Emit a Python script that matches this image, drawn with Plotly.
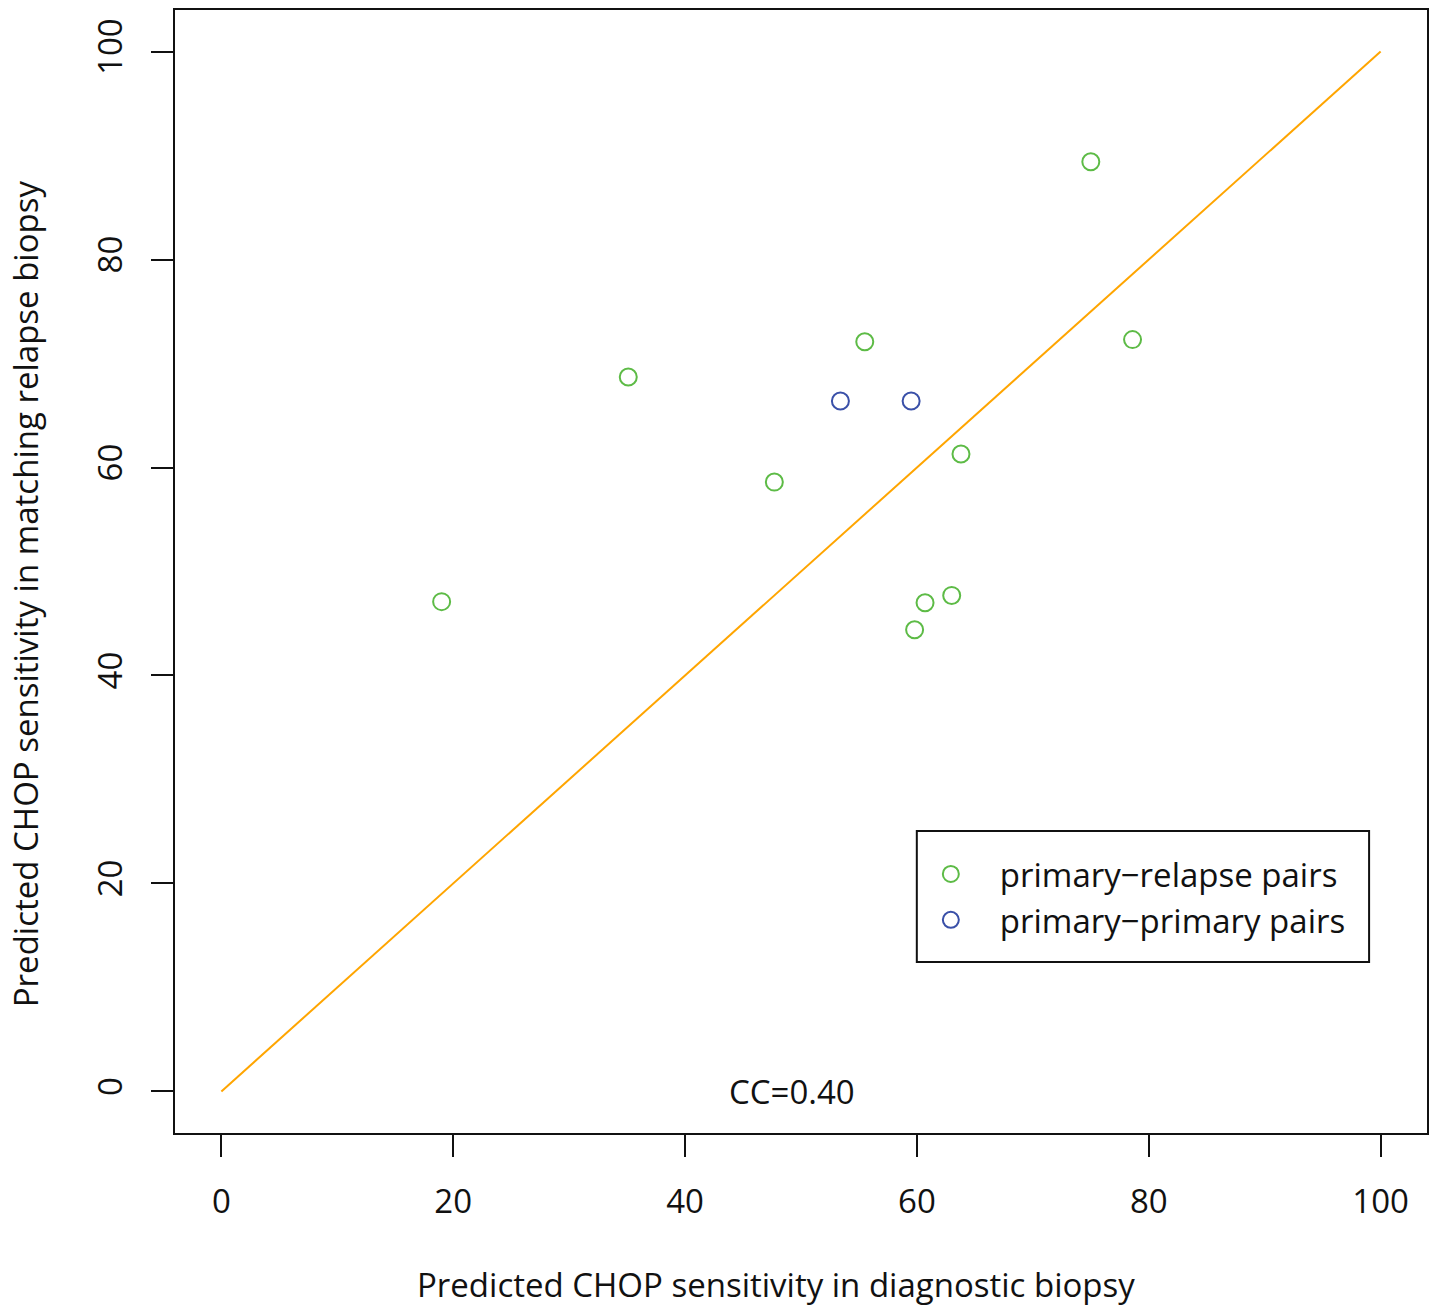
import plotly.graph_objects as go

# Data
relapse_x = [19.0, 35.1, 47.7, 55.5, 63.8, 60.7, 63.0, 59.8, 75.0, 78.6]
relapse_y = [47.1, 68.7, 58.6, 72.1, 61.3, 47.0, 47.7, 44.4, 89.4, 72.3]
primary_x = [53.4, 59.5]
primary_y = [66.4, 66.4]
diag_line = [0, 100]
tick_vals = [0, 20, 40, 60, 80, 100]
cc_label = "CC=0.40"
x_title = "Predicted CHOP sensitivity in diagnostic biopsy"
y_title = "Predicted CHOP sensitivity in matching relapse biopsy"

FONT = "Open Sans"
FS = 33
BLACK = "#111111"

fig = go.Figure()
fig.add_trace(go.Scatter(x=diag_line, y=diag_line, mode="lines",
                         line=dict(color="#FFA500", width=2), showlegend=False,
                         hoverinfo="skip"))
fig.add_trace(go.Scatter(x=relapse_x, y=relapse_y, mode="markers",
                         name="primary\u2212relapse pairs",
                         marker=dict(symbol="circle-open", size=17, color="#5DBB46",
                                     line=dict(width=2, color="#5DBB46"))))
fig.add_trace(go.Scatter(x=primary_x, y=primary_y, mode="markers",
                         name="primary\u2212primary pairs",
                         marker=dict(symbol="circle-open", size=17, color="#3A50A8",
                                     line=dict(width=2, color="#3A50A8"))))

axis_common = dict(range=[-4, 104], tickvals=tick_vals, ticks="outside", ticklen=22,
                   tickwidth=2, tickcolor=BLACK, showline=True, linecolor=BLACK,
                   linewidth=2, mirror=True, showgrid=False, zeroline=False,
                   tickfont=dict(family=FONT, size=FS, color=BLACK))
fig.update_xaxes(**axis_common, ticklabelstandoff=16)
fig.update_yaxes(**axis_common, tickangle=-90, ticklabelstandoff=16)

W, H = 1437, 1307
L, R, T, B = 175, 1437 - 1429, 10, 1307 - 1133
pw, ph = W - L - R, H - T - B

def px(xp):
    return (xp - L) / pw

def py(yp):
    return (H - B - yp) / ph

fig.add_annotation(x=px(777), y=py(1284), xref="paper", yref="paper", text=x_title,
                   showarrow=False, xanchor="center", yanchor="middle",
                   font=dict(family=FONT, size=FS, color=BLACK))
fig.add_annotation(x=px(25), y=py(594), xref="paper", yref="paper", text=y_title,
                   textangle=-90, showarrow=False, xanchor="center", yanchor="middle",
                   font=dict(family=FONT, size=FS, color=BLACK))
fig.add_annotation(x=49.2, y=0, xref="x", yref="y", text=cc_label, showarrow=False,
                   xanchor="center", yanchor="middle",
                   font=dict(family=FONT, size=FS, color=BLACK))

# legend frame
fig.add_shape(type="rect", xref="paper", yref="paper",
              x0=px(918), x1=px(1371), y0=py(962), y1=py(831),
              line=dict(color=BLACK, width=2), fillcolor="rgba(0,0,0,0)", layer="above")

fig.update_layout(
    width=W, height=H,
    margin=dict(l=L, r=R, t=T, b=B),
    paper_bgcolor="white", plot_bgcolor="white",
    font=dict(family=FONT, size=FS, color=BLACK),
    legend=dict(x=px(903), y=py(846), xanchor="left", yanchor="top",
                borderwidth=0, bgcolor="rgba(0,0,0,0)",
                itemwidth=88, indentation=0,
                font=dict(family=FONT, size=FS, color=BLACK)),
)

fig.write_html("out.html", config={"displayModeBar": False},
               post_script="document.body.style.margin='0px';")
